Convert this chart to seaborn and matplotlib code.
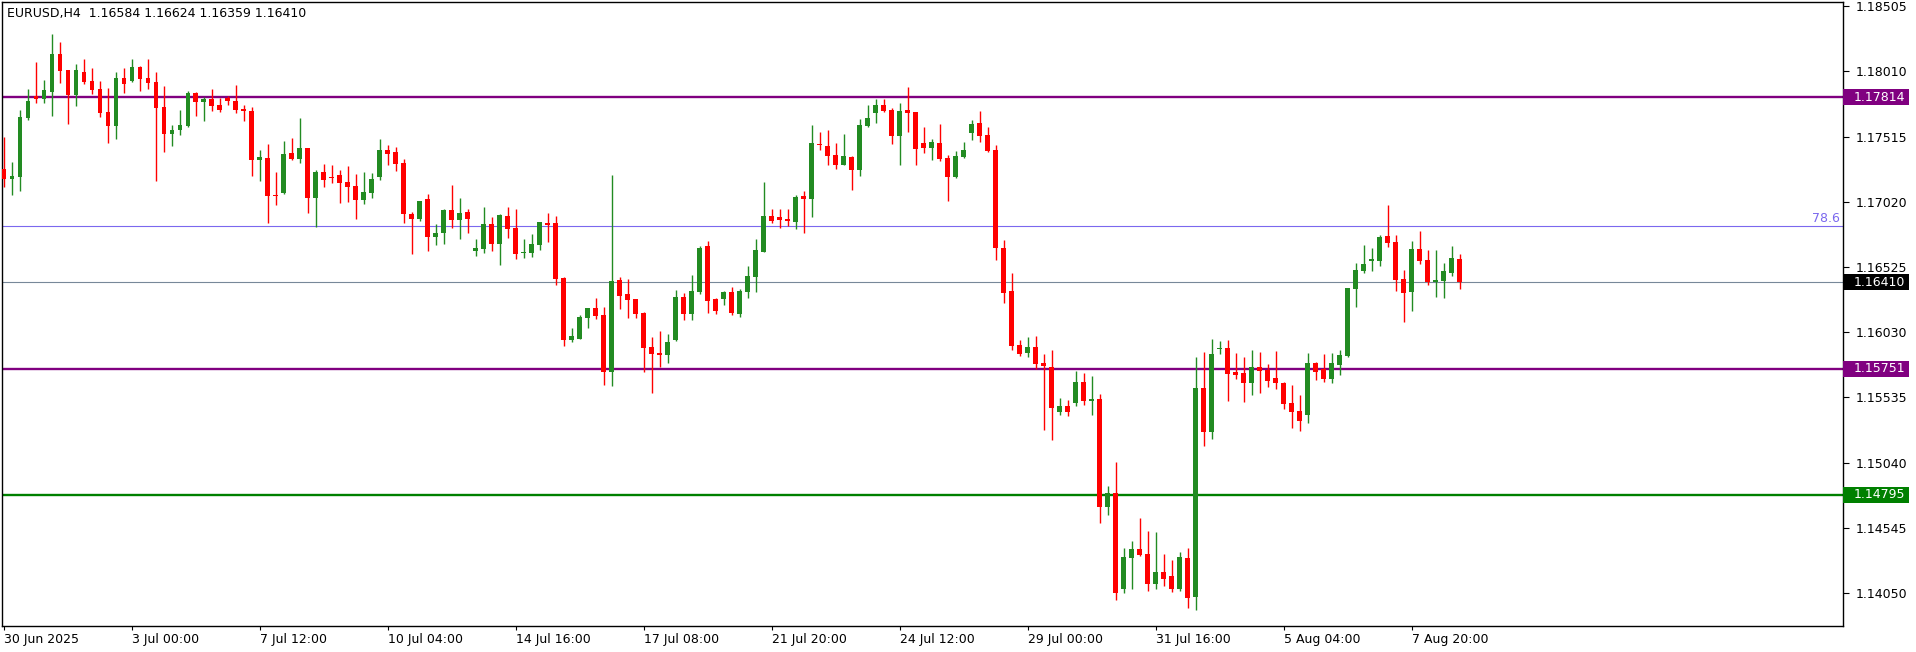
import numpy as np
import pandas as pd
import matplotlib
matplotlib.use("Agg")
import matplotlib.pyplot as plt
import matplotlib.transforms as mtransforms
from matplotlib.patches import Rectangle
import seaborn as sns

# EURUSD H4 candles (bar 0 = first visible bar)
opens = [
    1.17268, 1.17195, 1.17210, 1.17658, 1.17822, 1.17802, 1.17853, 1.18141, 1.18020, 1.17830,
    1.18005, 1.17936, 1.17876, 1.17701, 1.17597, 1.17959, 1.17936, 1.18043, 1.17959, 1.17929,
    1.17739, 1.17536, 1.17564, 1.17597, 1.17845, 1.17779, 1.17800, 1.17754, 1.17807, 1.17784,
    1.17724, 1.17709, 1.17339, 1.17352, 1.17071, 1.17088, 1.17390, 1.17346, 1.17428, 1.17051,
    1.17246, 1.17208, 1.17223, 1.17170, 1.17139, 1.17035, 1.17088, 1.17210, 1.17413, 1.17397,
    1.17314, 1.16927, 1.16891, 1.17041, 1.16754, 1.16785, 1.16957, 1.16883, 1.16942, 1.16648,
    1.16663, 1.16851, 1.16701, 1.16912, 1.16820, 1.16633, 1.16633, 1.16694, 1.16858, 1.16858,
    1.16441, 1.15973, 1.15980, 1.16140, 1.16213, 1.16160, 1.15730, 1.16426, 1.16320, 1.16282,
    1.16178, 1.15917, 1.15872, 1.15859, 1.15973, 1.16297, 1.16170, 1.16335, 1.16684, 1.16282,
    1.16284, 1.16335, 1.16170, 1.16335, 1.16451, 1.16641, 1.16912, 1.16904, 1.16889, 1.16868,
    1.17063, 1.17043, 1.17460, 1.17443, 1.17375, 1.17301, 1.17359, 1.17263, 1.17597, 1.17696,
    1.17754, 1.17716, 1.17521, 1.17716, 1.17703, 1.17466, 1.17430, 1.17466, 1.17352, 1.17210,
    1.17362, 1.17544, 1.17617, 1.17526, 1.17413, 1.16669, 1.16342, 1.15932, 1.15874, 1.15917,
    1.15796, 1.15765, 1.15424, 1.15469, 1.15492, 1.15652, 1.15510, 1.15523, 1.14705, 1.14811,
    1.14083, 1.14318, 1.14382, 1.14344, 1.14121, 1.14207, 1.14177, 1.14083, 1.14314, 1.14022,
    1.15604, 1.15274, 1.15904, 1.15910, 1.15730, 1.15720, 1.15646, 1.15765, 1.15743, 1.15682,
    1.15644, 1.15492, 1.15431, 1.15403, 1.15796, 1.15750, 1.15677, 1.15783, 1.15851, 1.16360,
    1.16496, 1.16572, 1.16572, 1.16759, 1.16714, 1.16433, 1.16337, 1.16661, 1.16578, 1.16413,
    1.16421, 1.16481, 1.16584,
]
highs = [
    1.17511, 1.17321, 1.17716, 1.17876, 1.18080, 1.17944, 1.18293, 1.18232, 1.18020, 1.18065,
    1.18103, 1.18035, 1.17936, 1.17883, 1.18005, 1.18035, 1.18103, 1.18050, 1.18103, 1.18005,
    1.17898, 1.17602, 1.17716, 1.17858, 1.17853, 1.17815, 1.17876, 1.17807, 1.17822, 1.17906,
    1.17754, 1.17739, 1.17413, 1.17458, 1.17246, 1.17481, 1.17504, 1.17655, 1.17428, 1.17261,
    1.17306, 1.17299, 1.17261, 1.17291, 1.17230, 1.17246, 1.17238, 1.17496, 1.17450, 1.17435,
    1.17344, 1.16942, 1.17025, 1.17079, 1.16851, 1.16965, 1.17147, 1.17048, 1.16965, 1.16737,
    1.16980, 1.16904, 1.16927, 1.16980, 1.16965, 1.16737, 1.16775, 1.16866, 1.16934, 1.16912,
    1.16449, 1.16062, 1.16160, 1.16213, 1.16289, 1.16223, 1.17223, 1.16449, 1.16433, 1.16282,
    1.16185, 1.15993, 1.16039, 1.16016, 1.16350, 1.16327, 1.16464, 1.16684, 1.16722, 1.16289,
    1.16342, 1.16373, 1.16358, 1.16532, 1.16737, 1.17170, 1.16965, 1.16965, 1.16965, 1.17071,
    1.17101, 1.17602, 1.17549, 1.17564, 1.17466, 1.17534, 1.17367, 1.17648, 1.17754, 1.17800,
    1.17800, 1.17731, 1.17769, 1.17891, 1.17703, 1.17587, 1.17496, 1.17610, 1.17375, 1.17405,
    1.17473, 1.17640, 1.17709, 1.17587, 1.17450, 1.16729, 1.16479, 1.15970, 1.15993, 1.16001,
    1.15864, 1.15894, 1.15530, 1.15515, 1.15735, 1.15720, 1.15697, 1.15561, 1.14862, 1.15044,
    1.14389, 1.14443, 1.14619, 1.14521, 1.14513, 1.14344, 1.14298, 1.14359, 1.14389, 1.15841,
    1.15879, 1.15978, 1.15963, 1.15970, 1.15872, 1.15841, 1.15894, 1.15879, 1.15788, 1.15887,
    1.15652, 1.15629, 1.15553, 1.15872, 1.15803, 1.15864, 1.15872, 1.15894, 1.16365, 1.16555,
    1.16691, 1.16669, 1.16767, 1.16995, 1.16767, 1.16502, 1.16722, 1.16798, 1.16653, 1.16653,
    1.16555, 1.16684, 1.16624,
]
lows = [
    1.17134, 1.17073, 1.17104, 1.17643, 1.17772, 1.17772, 1.17673, 1.17923, 1.17612, 1.17749,
    1.17916, 1.17840, 1.17665, 1.17468, 1.17498, 1.17847, 1.17931, 1.17863, 1.17878, 1.17175,
    1.17400, 1.17445, 1.17529, 1.17589, 1.17673, 1.17635, 1.17711, 1.17703, 1.17756, 1.17696,
    1.17635, 1.17215, 1.17180, 1.16861, 1.16997, 1.17081, 1.17339, 1.17316, 1.16937, 1.16826,
    1.17134, 1.17164, 1.17012, 1.17020, 1.16891, 1.17005, 1.17051, 1.17187, 1.17299, 1.17255,
    1.16861, 1.16625, 1.16876, 1.16648, 1.16694, 1.16701, 1.16823, 1.16739, 1.16785, 1.16610,
    1.16633, 1.16648, 1.16542, 1.16747, 1.16587, 1.16595, 1.16603, 1.16656, 1.16717, 1.16390,
    1.15927, 1.15958, 1.15980, 1.16064, 1.16132, 1.15631, 1.15624, 1.16208, 1.16140, 1.16140,
    1.15728, 1.15568, 1.15768, 1.15798, 1.15965, 1.16125, 1.16125, 1.16320, 1.16178, 1.16170,
    1.16238, 1.16162, 1.16147, 1.16291, 1.16335, 1.16641, 1.16861, 1.16823, 1.16838, 1.16815,
    1.16785, 1.16906, 1.17415, 1.17301, 1.17271, 1.17301, 1.17111, 1.17217, 1.17589, 1.17620,
    1.17703, 1.17460, 1.17301, 1.17551, 1.17301, 1.17392, 1.17339, 1.17331, 1.17028, 1.17202,
    1.17354, 1.17491, 1.17476, 1.17400, 1.16580, 1.16254, 1.15897, 1.15851, 1.15844, 1.15753,
    1.15287, 1.15211, 1.15401, 1.15394, 1.15469, 1.15477, 1.15403, 1.14584, 1.14644, 1.13999,
    1.14052, 1.14083, 1.14333, 1.14068, 1.14083, 1.14106, 1.14060, 1.14068, 1.13939, 1.13923,
    1.15168, 1.15221, 1.15866, 1.15510, 1.15677, 1.15502, 1.15555, 1.15570, 1.15616, 1.15601,
    1.15449, 1.15305, 1.15282, 1.15343, 1.15669, 1.15654, 1.15646, 1.15707, 1.15844, 1.16223,
    1.16481, 1.16496, 1.16534, 1.16679, 1.16345, 1.16109, 1.16193, 1.16550, 1.16390, 1.16299,
    1.16291, 1.16458, 1.16359,
]
closes = [
    1.17195, 1.17215, 1.17663, 1.17784, 1.17802, 1.17868, 1.18141, 1.18014, 1.17830, 1.18020,
    1.17931, 1.17870, 1.17696, 1.17597, 1.17959, 1.17916, 1.18043, 1.17954, 1.17923, 1.17734,
    1.17536, 1.17562, 1.17602, 1.17845, 1.17779, 1.17800, 1.17749, 1.17718, 1.17787, 1.17718,
    1.17711, 1.17339, 1.17359, 1.17066, 1.17066, 1.17382, 1.17346, 1.17428, 1.17051, 1.17246,
    1.17187, 1.17202, 1.17164, 1.17134, 1.17035, 1.17094, 1.17192, 1.17413, 1.17384, 1.17309,
    1.16929, 1.16891, 1.17025, 1.16754, 1.16783, 1.16957, 1.16883, 1.16934, 1.16891, 1.16669,
    1.16851, 1.16701, 1.16919, 1.16815, 1.16625, 1.16641, 1.16699, 1.16866, 1.16846, 1.16436,
    1.15973, 1.16001, 1.16145, 1.16213, 1.16155, 1.15730, 1.16418, 1.16307, 1.16276, 1.16170,
    1.15912, 1.15866, 1.15859, 1.15955, 1.16297, 1.16170, 1.16342, 1.16669, 1.16269, 1.16193,
    1.16335, 1.16178, 1.16342, 1.16456, 1.16653, 1.16912, 1.16876, 1.16883, 1.16876, 1.17056,
    1.17043, 1.17466, 1.17453, 1.17369, 1.17301, 1.17367, 1.17263, 1.17602, 1.17655, 1.17754,
    1.17711, 1.17521, 1.17709, 1.17696, 1.17422, 1.17430, 1.17473, 1.17346, 1.17210, 1.17367,
    1.17413, 1.17610, 1.17521, 1.17407, 1.16671, 1.16329, 1.15927, 1.15866, 1.15917, 1.15791,
    1.15773, 1.15454, 1.15469, 1.15424, 1.15652, 1.15507, 1.15523, 1.14705, 1.14811, 1.14052,
    1.14321, 1.14382, 1.14341, 1.14121, 1.14207, 1.14159, 1.14083, 1.14321, 1.14015, 1.15604,
    1.15274, 1.15864, 1.15912, 1.15715, 1.15707, 1.15646, 1.15765, 1.15737, 1.15661, 1.15646,
    1.15487, 1.15426, 1.15358, 1.15796, 1.15730, 1.15677, 1.15796, 1.15857, 1.16365, 1.16502,
    1.16547, 1.16585, 1.16751, 1.16709, 1.16428, 1.16329, 1.16661, 1.16572, 1.16413, 1.16428,
    1.16494, 1.16593, 1.16410,
]

time_labels = ["30 Jun 2025", "3 Jul 00:00", "7 Jul 12:00", "10 Jul 04:00", "14 Jul 16:00",
               "17 Jul 08:00", "21 Jul 20:00", "24 Jul 12:00", "29 Jul 00:00", "31 Jul 16:00",
               "5 Aug 04:00", "7 Aug 20:00"]
bars_per_label = 16

price_ticks = [1.18505, 1.18010, 1.17515, 1.17020, 1.16525, 1.16030, 1.15535, 1.15040, 1.14545, 1.14050]

level_prices = [1.17814, 1.15751, 1.14795]
level_colors = ["#800080", "#800080", "#008000"]
fib_price = 1.16836
fib_text = "78.6"
bid_price = 1.16410

title = "EURUSD,H4  1.16584 1.16624 1.16359 1.16410"

GREEN = "#228B22"
RED = "#FF0000"
W, H = 1916, 652

sns.set_theme(style="white")
plt.rcParams['font.family'] = ['DejaVu Sans']

df = pd.DataFrame({"open": opens, "high": highs, "low": lows, "close": closes})
df["bar"] = np.arange(len(df))
df["color"] = np.where(df["close"] >= df["open"], GREEN, RED)
df["body_lo"] = df[["open", "close"]].min(axis=1)
df["body_h"] = np.maximum((df["close"] - df["open"]).abs(), 0.00005)

fig = plt.figure(figsize=(W / 100, H / 100), dpi=100)
ax = fig.add_axes([2 / W, 26 / H, 1841 / W, 624 / H])
ax.set_facecolor("white")

# horizontal levels first, candles on top
for p, c in zip(level_prices, level_colors):
    ax.axhline(p, color=c, lw=1.7, zorder=1)
ax.axhline(fib_price, color="#7B68EE", lw=0.8, zorder=1)
ax.axhline(bid_price, color="#778899", lw=0.8, zorder=1)

ax.vlines(df["bar"], df["low"], df["high"], colors=df["color"], lw=1.0, zorder=2)
ax.bar(df["bar"], df["body_h"], bottom=df["body_lo"], width=0.62,
       color=df["color"], linewidth=0, zorder=3)

ax.set_xlim(-0.25, 229.9)
ax.set_ylim(1.13800, 1.18536)

# x axis
xt = np.arange(len(time_labels)) * bars_per_label
ax.set_xticks(xt)
ax.set_xticklabels(time_labels, fontsize=9, color="black")
for lbl in ax.get_xticklabels():
    lbl.set_ha("left")
ax.tick_params(axis="x", length=3, width=0.8, pad=2, direction="out", colors="black", bottom=True)

# price axis on the right
ax.yaxis.tick_right()
ax.set_yticks(price_ticks)
ax.set_yticklabels([f"{v:.5f}" for v in price_ticks], fontsize=9, color="black")
ax.tick_params(axis="y", length=4, width=0.8, pad=5, direction="out", colors="black", right=True)

for s in ax.spines.values():
    s.set_color("black")
    s.set_linewidth(1.0)

trans = mtransforms.blended_transform_factory(ax.transAxes, ax.transData)
box_w = 66 / 1841
box_h = 16 * 0.0000759
tags = list(zip(level_prices, level_colors)) + [(bid_price, "black")]
for p, c in tags:
    ax.add_patch(Rectangle((1.0, p - box_h / 2), box_w, box_h, transform=trans,
                           facecolor=c, edgecolor="none", clip_on=False, zorder=5))
    ax.text(1.0 + 11 / 1841, p, f"{p:.5f}", transform=trans, ha="left", va="center",
            fontsize=9, color="white", clip_on=False, zorder=6)

ax.text(0.9985, fib_price + 0.00006, fib_text, transform=trans, ha="right", va="bottom",
        fontsize=9, color="#7B68EE")

ax.text(5 / 1841, 1 - 12 / 624, title, transform=ax.transAxes, ha="left", va="center",
        fontsize=9, color="black")

fig.savefig("out.png", dpi=100)
